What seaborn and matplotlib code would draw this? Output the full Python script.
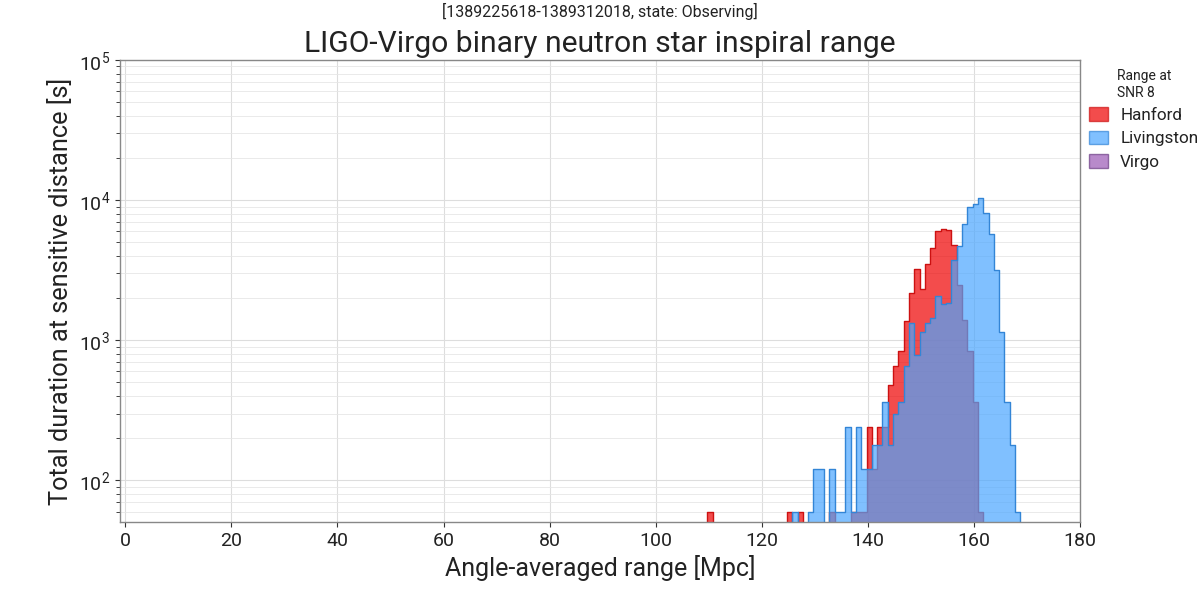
import pandas as pd
import matplotlib
matplotlib.use("Agg")
from matplotlib import pyplot as plt
from matplotlib.patches import Patch
import seaborn as sns

# bin centres [Mpc] and time spent in each bin [s] (only non-empty bins)
hanford_range = [110.25, 125.25, 127.25, 133.25, 137.25, 138.25, 139.25, 140.25,
                 141.25, 142.25, 143.25, 144.25, 145.25, 146.25, 147.25, 148.25,
                 149.25, 150.25, 151.25, 152.25, 153.25, 154.25, 155.25, 156.25,
                 157.25, 158.25, 159.25, 160.25, 161.25]
hanford_seconds = [60, 60, 60, 60, 60, 60, 60, 240,
                   120, 240, 240, 480, 660, 840, 1380, 2160,
                   3240, 2340, 3520, 4540, 6000, 6200, 6100, 4800,
                   2490, 1400, 840, 360, 60]

livingston_range = [126.25, 129.25, 130.25, 131.25, 133.25, 134.25, 135.25, 136.25,
                    137.25, 138.25, 139.25, 140.25, 141.25, 142.25, 143.25, 144.25,
                    145.25, 146.25, 147.25, 148.25, 149.25, 150.25, 151.25, 152.25,
                    153.25, 154.25, 155.25, 156.25, 157.25, 158.25, 159.25, 160.25,
                    161.25, 162.25, 163.25, 164.25, 165.25, 166.25, 167.25, 168.25]
livingston_seconds = [60, 60, 120, 120, 120, 60, 60, 240,
                      60, 240, 120, 120, 180, 180, 360, 180,
                      300, 360, 660, 1320, 780, 1140, 1320, 1440,
                      2080, 1820, 1860, 3750, 4720, 6750, 8900, 9400,
                      10300, 8070, 5750, 3190, 1140, 360, 180, 60]

# Virgo had no data in this span, it only shows up in the legend
virgo_range = []
virgo_seconds = []

hanford = pd.DataFrame({"range": hanford_range, "seconds": hanford_seconds})
livingston = pd.DataFrame({"range": livingston_range, "seconds": livingston_seconds})

sns.set_style("ticks")
plt.rcParams["font.family"] = ["Roboto", "DejaVu Sans"]
plt.rcParams["mathtext.default"] = "regular"
plt.rcParams["text.color"] = "#222222"
plt.rcParams["axes.labelcolor"] = "#222222"

fig, ax = plt.subplots(figsize=(12, 6), dpi=100)
fig.subplots_adjust(left=0.1, right=0.9, top=0.9, bottom=0.13)

ax.set_yscale("log")
sns.histplot(data=hanford, x="range", weights="seconds", binwidth=1, binrange=(109.75, 168.75),
             element="step", fill=True, color="#ee0000", edgecolor="#cc1111", alpha=0.7,
             linewidth=1.0, ax=ax)
sns.histplot(data=livingston, x="range", weights="seconds", binwidth=1, binrange=(109.75, 168.75),
             element="step", fill=True, color="#4ba6ff", edgecolor="#3385d6", alpha=0.7,
             linewidth=1.0, ax=ax)

ax.set_xlim(-1, 180)
ax.set_ylim(50.5, 1e5)
ax.set_xticks(range(0, 181, 20))
ax.tick_params(axis="both", labelsize=14, color="#333333", labelcolor="#222222")
ax.tick_params(axis="y", which="minor", length=3)
ax.grid(True, which="major", color="#dddddd", linewidth=0.8)
ax.grid(True, which="minor", axis="y", color="#e6e6e6", linewidth=0.6)
ax.set_axisbelow(True)
for s in ax.spines.values():
    s.set_color("#888888")
    s.set_linewidth(1)

ax.set_xlabel("Angle-averaged range [Mpc]", fontsize=18)
ax.set_ylabel("Total duration at sensitive distance [s]", fontsize=18.3)
ax.set_title("LIGO-Virgo binary neutron star inspiral range", fontsize=21.6, pad=6)
fig.suptitle("[1389225618-1389312018, state: Observing]", fontsize=11.5, y=0.995)

handles = [Patch(facecolor="#ee0000", edgecolor="#cc1111", alpha=0.7, label="Hanford"),
           Patch(facecolor="#4ba6ff", edgecolor="#3385d6", alpha=0.7, label="Livingston"),
           Patch(facecolor="#9b59b6", edgecolor="#6d3d85", alpha=0.7, label="Virgo")]
leg = ax.legend(handles=handles, loc="upper left", bbox_to_anchor=(1.0, 1.0),
                frameon=False, title="Range at\nSNR 8", fontsize=12.3, title_fontsize=10,
                handlelength=1.1, handleheight=0.85, handletextpad=0.7,
                borderaxespad=0.0, borderpad=0.55, labelspacing=0.45)

fig.savefig("out.png", dpi=100)
